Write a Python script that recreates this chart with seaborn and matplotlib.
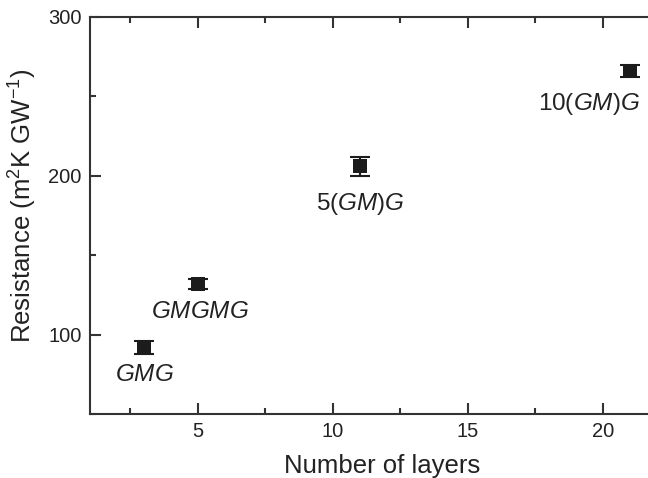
import matplotlib
matplotlib.use("Agg")
import matplotlib.pyplot as plt
import seaborn as sns
import pandas as pd
from matplotlib.ticker import MultipleLocator

layers = [3, 5, 11, 21]
resistance = [92, 132, 206, 266]
err = [4, 3, 6, 4]
labels = ["$\\it{GMG}$", "$\\it{GMGMG}$", "5($\\it{GM}$)$\\it{G}$", "10($\\it{GM}$)$\\it{G}$"]

sns.set_style("ticks")
plt.rcParams['font.family'] = ['Liberation Sans', 'DejaVu Sans']
plt.rcParams['mathtext.fontset'] = 'custom'
plt.rcParams['mathtext.rm'] = 'Liberation Sans'
plt.rcParams['mathtext.it'] = 'Liberation Sans:italic'
plt.rcParams['mathtext.bf'] = 'Liberation Sans:bold'

df = pd.DataFrame({"layers": layers, "resistance": resistance, "err": err})

fig = plt.figure(figsize=(6.48, 4.78), dpi=100)
ax = fig.add_axes([90/648, 1-414/478, (674-90)/648, (414-17)/478])

c = "#1c1c1c"
ax.errorbar(df["layers"], df["resistance"], yerr=df["err"], fmt="none",
            ecolor=c, elinewidth=1.5, capsize=7, capthick=1.5, zorder=2)
sns.scatterplot(data=df, x="layers", y="resistance", marker="s", s=100,
                color=c, edgecolor=c, linewidth=0, ax=ax, zorder=3)

offsets = [(0, -20, 'center'), (1.5, -20, 'center'), (0, -27.5, 'center'), (7, -24, 'right')]
for x, y, lab, (dx, dy, ha) in zip(layers, resistance, labels, offsets):
    ax.annotate(lab, (x, y), xytext=(dx, dy), textcoords="offset points",
                ha=ha, va="center", fontsize=17.5, color="#222222")

ax.set_xlim(1, 22.63)
ax.set_ylim(50, 300)
ax.xaxis.set_major_locator(MultipleLocator(5))
ax.xaxis.set_minor_locator(MultipleLocator(2.5))
ax.yaxis.set_major_locator(MultipleLocator(100))
ax.yaxis.set_minor_locator(MultipleLocator(50))
ax.tick_params(which="both", direction="in", top=True, right=False, color="#333333",
               width=1.5, labelsize=14.5, labelcolor="#222222", pad=6)
ax.tick_params(which="major", length=8)
ax.tick_params(which="minor", length=4.5)

for s in ["left", "bottom", "top"]:
    ax.spines[s].set_linewidth(1.5)
    ax.spines[s].set_color("#333333")
ax.spines["right"].set_visible(False)

ax.set_xlabel("Number of layers", fontsize=18.5, color="#222222", labelpad=9)
ax.set_ylabel("Resistance (m$^2$K GW$^{-1}$)", fontsize=18.5, color="#222222")
ax.yaxis.set_label_coords(-0.087, 0.524)

fig.savefig("out.png", dpi=100)
